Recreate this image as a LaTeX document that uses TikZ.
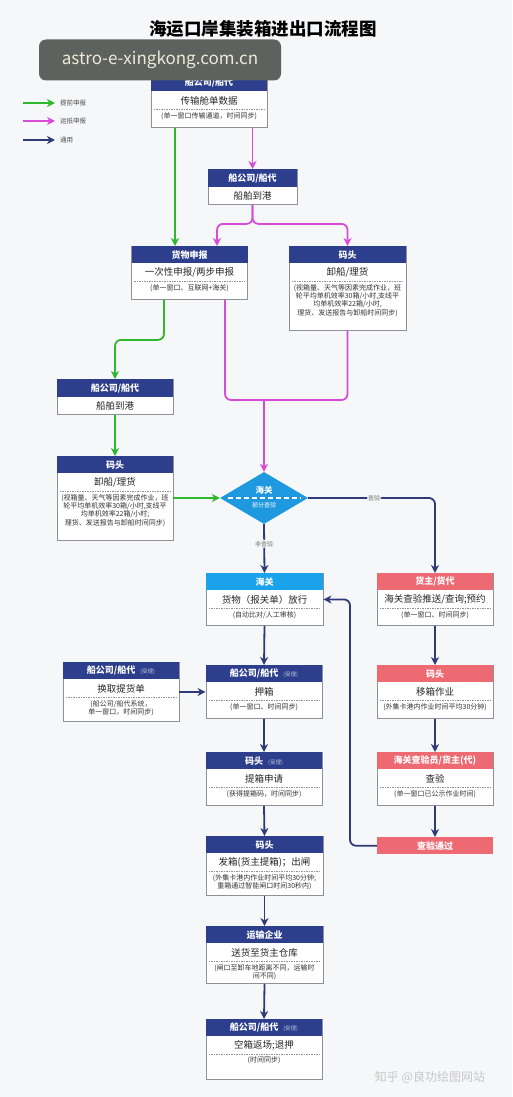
\documentclass[tikz,border=0pt]{standalone}
\usepackage{fontspec}
\newfontfamily\cjk{Noto Sans CJK SC}
\usetikzlibrary{shapes.geometric, arrows.meta, calc}

\definecolor{navyhead}{HTML}{2C3E8C}
\definecolor{navyline}{HTML}{2E3B78}
\definecolor{greenline}{HTML}{2DB82D}
\definecolor{pinkline}{HTML}{D64BD8}
\definecolor{skyhead}{HTML}{1AA2EA}
\definecolor{redhead}{HTML}{EE6A73}
\definecolor{diamondblue}{HTML}{1E98DF}
\definecolor{boxline}{HTML}{8E9199}
\definecolor{bggray}{HTML}{F6F7F9}
\definecolor{wmgray}{HTML}{5D625F}
\definecolor{wmtext}{HTML}{EFE9D6}

\tikzset{
  flowframe/.style={draw=boxline, line width=0.9pt, fill=white, inner sep=0pt},
  flowhead/.style={minimum height=17pt, inner sep=0pt, text=white,
    font=\cjk\bfseries\fontsize{9}{10}\selectfont},
  flowtext/.style={inner sep=0pt, text=black!85, font=\cjk\fontsize{9.5}{11}\selectfont},
  flowsmall/.style={inner sep=0pt, align=center, text=black!80,
    font=\cjk\fontsize{7}{8.4}\selectfont},
  flowdash/.style={draw=boxline, line width=0.6pt, dash pattern=on 1.5pt off 1pt},
  connector/.style={line width=1.8pt, rounded corners=6pt},
  gline/.style={connector, draw=greenline},
  pline/.style={connector, draw=pinkline},
  nline/.style={connector, draw=navyline},
  linelabel/.style={fill=bggray, inner sep=1pt, text=black!55,
    font=\cjk\fontsize{6}{7}\selectfont},
  legendtext/.style={inner sep=0pt, text=black!70, font=\cjk\fontsize{6.5}{7}\selectfont},
  >={Stealth[length=8pt, width=8pt, inset=2.5pt]}
}

% box with header, main text, dashed rule and note
\newcommand{\flowbox}[8]{%
  \node[flowframe, minimum width=#3, minimum height=#4, anchor=north] (#1) at (#2) {};
  \node[flowhead, minimum width=#3, fill=#5, anchor=north] (#1-h) at (#1.north) {#6};
  \node[flowtext] (#1-t) at ([yshift=-9pt]#1-h.south) {#7};
  \draw[flowdash] ([yshift=-18pt, xshift=3pt]#1-h.south west) -- ([yshift=-18pt, xshift=-3pt]#1-h.south east);
  \node[flowsmall, anchor=north] (#1-s) at ([yshift=-20.5pt]#1-h.south) {#8};
}
% box with header and main text only
\newcommand{\plainbox}[6]{%
  \node[flowframe, minimum width=#3, minimum height=35pt, anchor=north] (#1) at (#2) {};
  \node[flowhead, minimum width=#3, minimum height=18pt, fill=#4, anchor=north] (#1-h) at (#1.north) {#5};
  \node[flowtext] (#1-t) at ([yshift=-9pt]#1-h.south) {#6};
}
\newcommand{\accepted}{\hspace{5pt}{\mdseries\fontsize{5.5}{6}\selectfont\color{white!70!navyhead}(受理)}}

\begin{document}
\begin{tikzpicture}[x=1pt, y=-1pt, font=\cjk]
    % Page
    \path[use as bounding box, fill=bggray] (0,0) rectangle (512,1097);

    % Title
    \node[font=\cjk\bfseries\fontsize{17.5}{18}\selectfont] (title) at (263,29) {海运口岸集装箱进出口流程图};

    % Legend
    \node[legendtext, anchor=west] (lg1) at (60,103) {提前申报};
    \node[legendtext, anchor=west] (lg2) at (60,121) {运抵申报};
    \node[legendtext, anchor=west] (lg3) at (60,140) {通用};
    \draw[gline, ->] ([xshift=-37pt]lg1.west) -- ([xshift=-5pt]lg1.west);
    \draw[pline, ->] ([xshift=-37pt]lg2.west) -- ([xshift=-5pt]lg2.west);
    \draw[nline, ->] ([xshift=-37pt]lg3.west) -- ([xshift=-5pt]lg3.west);

    % Columns for the connectors
    \coordinate (gcolA) at (175,0);
    \coordinate (gcolB) at (164,0);
    \coordinate (pcolA) at (217,0);
    \coordinate (pcolB) at (225,0);
    \coordinate (pjoin) at (264,400);
    \coordinate (rcol) at (350,0);

    % Ship side
    \flowbox{b1}{209,74}{116pt}{53pt}{navyhead}{船公司/船代}{传输舱单数据}{(单一窗口传输通道，时间同步)}
    \plainbox{b2}{252.5,169}{89pt}{navyhead}{船公司/船代}{船舶到港}
    \flowbox{b3}{189.5,246}{116pt}{53pt}{navyhead}{货物申报}{一次性申报/两步申报}{(单一窗口、互联网+海关)}
    \flowbox{b4}{347.5,246}{117pt}{84pt}{navyhead}{码头}{卸船/理货}{(视箱量、天气等因素完成作业，班\\轮平均单机效率30箱/小时,支线平\\均单机效率22箱/小时,\\理货、发送报告与卸船时间同步)}
    \plainbox{b5}{115,379}{116pt}{navyhead}{船公司/船代}{船舶到港}
    \flowbox{b6}{115,456}{116pt}{84pt}{navyhead}{码头}{卸船/理货}{(视箱量、天气等因素完成作业，班\\轮平均单机效率30箱/小时,支线平\\均单机效率22箱/小时;\\理货、发送报告与卸船时间同步)}

    % Customs check
    \node[diamond, fill=diamondblue, minimum width=88pt, minimum height=52pt, inner sep=0pt] (dia) at (264,498) {};
    \draw[white, line width=1.3pt, dash pattern=on 5pt off 3pt] ([xshift=8pt]dia.west) -- ([xshift=-8pt]dia.east);
    \node[text=white, inner sep=0pt, font=\cjk\bfseries\fontsize{8.5}{9}\selectfont] (dia-a) at ([yshift=8pt]dia.center) {海关};
    \node[text=white, inner sep=0pt, font=\cjk\fontsize{6}{7}\selectfont] (dia-b) at ([yshift=-7pt]dia.center) {部分查验};

    % Release side
    \flowbox{b7}{264.5,573}{117pt}{52pt}{skyhead}{海关}{货物（报关单）放行}{(自动比对/人工审核)}
    \flowbox{b8}{435,573}{116pt}{52pt}{redhead}{货主/货代}{海关查验推送/查询;预约}{(单一窗口、时间同步)}
    \flowbox{b9}{264,665}{116pt}{53pt}{navyhead}{船公司/船代\accepted}{押箱}{(单一窗口、时间同步)}
    \flowbox{b10}{121,662}{116pt}{59pt}{navyhead}{船公司/船代\accepted}{换取提货单}{(船公司/船代系统，\\单一窗口，时间同步)}
    \flowbox{b11}{264,752}{116pt}{53pt}{navyhead}{码头\accepted}{提箱申请}{(获得提箱码，时间同步)}
    \flowbox{b12}{435,665}{116pt}{53pt}{redhead}{码头}{移箱作业}{(外集卡港内作业时间平均30分钟)}
    \flowbox{b13}{435,752}{116pt}{53pt}{redhead}{海关查验员/货主(代)}{查验}{(单一窗口已公示作业时间)}
    \node[flowhead, fill=redhead, minimum width=116pt, anchor=north] (b14) at (435,837) {查验通过};
    \flowbox{b15}{264.5,836}{117pt}{59pt}{navyhead}{码头}{发箱(货主提箱)；出闸}{(外集卡港内作业时间平均30分钟;\\重箱通过智能闸口时间30秒内)}
    \flowbox{b16}{264.5,926}{117pt}{57pt}{navyhead}{运输企业}{送货至货主仓库}{(闸口至卸车地距离不同，运输时\\间不同)}
    \flowbox{b17}{264,1019}{116pt}{60pt}{navyhead}{船公司/船代\accepted}{空箱返场;退押}{(时间同步)}

    % Advance declaration (green)
    \draw[gline, ->] (b1.south -| gcolA) -- (b3.north -| gcolA);
    \draw[gline, ->] (b3.south -| gcolB) -- ++(0,40) -| (b5.north);
    \draw[gline, ->] (b5.south) -- (b6.north);
    \draw[gline, ->] (b6.east |- dia.west) -- (dia.west);

    % Arrival declaration (magenta)
    \draw[pline, ->] (b1.south -| b2.north) -- (b2.north);
    \draw[pline, ->] (b2.south) -- ++(0,19) -| (b3.north -| pcolA);
    \draw[pline, ->] (b2.south) -- ++(0,19) -| (b4.north);
    \draw[pline] (b3.south -| pcolB) |- (pjoin);
    \draw[pline] (b4.south) |- (pjoin);
    \draw[pline, ->] (pjoin) -- (dia.north);

    % Common flow (navy)
    \draw[nline, ->] (dia.east) -| (b8.north) node[linelabel, pos=0.26] {查验};
    \draw[nline, ->] (dia.south) -- (b7.north) node[linelabel, pos=0.4] {非查验};
    \draw[nline, ->] (b7.south) -- (b9.north);
    \draw[nline, ->] (b10.east) -- (b10.east -| b9.west);
    \draw[nline, ->] (b9.south) -- (b11.north);
    \draw[nline, ->] (b11.south) -- (b15.north);
    \draw[nline, ->] (b15.south) -- (b16.north);
    \draw[nline, ->] (b16.south) -- (b17.north);
    \draw[nline, ->] (b8.south) -- (b12.north);
    \draw[nline, ->] (b12.south) -- (b13.north);
    \draw[nline, ->] (b13.south) -- (b14.north);
    \draw[nline, ->] (b14.west) -| (rcol |- b7.east) -- (b7.east);

    % Watermarks
    \node[fill=wmgray, rounded corners=7pt, minimum width=242pt, minimum height=41pt, inner sep=0pt,
      text=wmtext, font=\cjk\fontsize{17}{18}\selectfont] (wm) at (160,60) {astro-e-xingkong.com.cn};
    \node[text=black!22, font=\cjk\fontsize{12}{13}\selectfont] (wm2) at (430,1077) {知乎 @良功绘图网站};
\end{tikzpicture}
\end{document}
